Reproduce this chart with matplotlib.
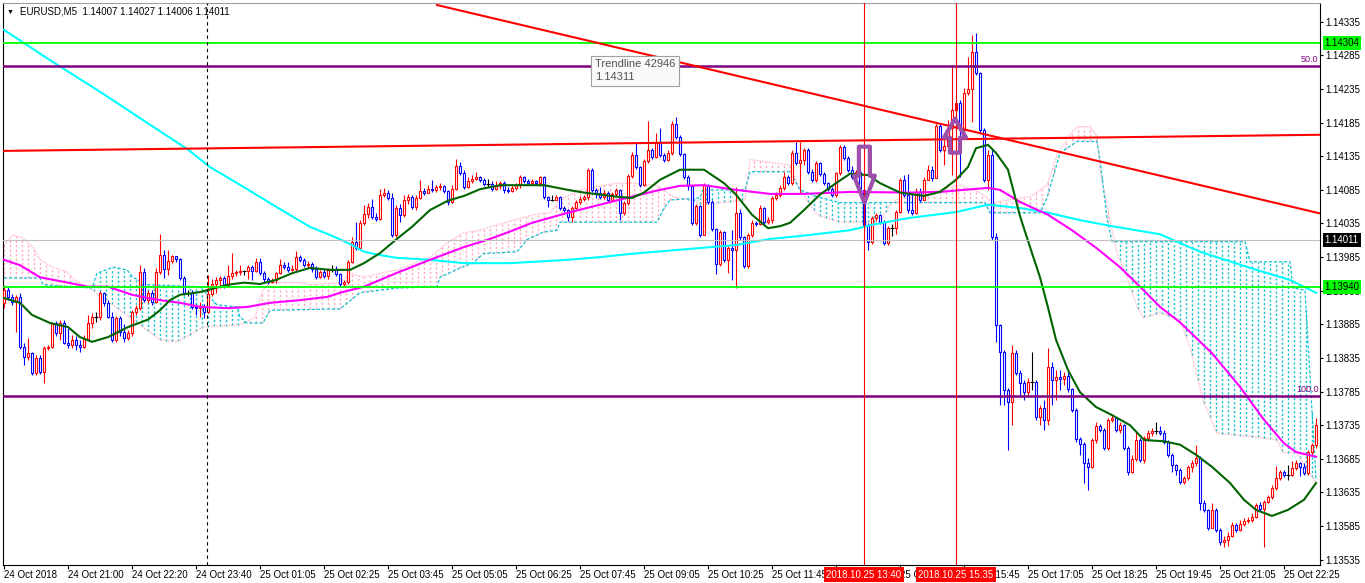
import numpy as np
import matplotlib
matplotlib.use("Agg")
import matplotlib.pyplot as plt
from matplotlib.patches import Polygon
from matplotlib.transforms import blended_transform_factory

plt.rcParams['font.family'] = ['Liberation Sans', 'DejaVu Sans']
plt.rcParams['font.size'] = 7

# EURUSD M5 bars (open of a bar = close of the previous bar)
first_open = 1.13917
close = np.array([
    1.13936, 1.13926, 1.13918, 1.13926, 1.13851, 1.13836, 1.13842, 1.13813, 1.13835, 1.13814,
    1.13850, 1.13851, 1.13887, 1.13872, 1.13887, 1.13857, 1.13854, 1.13862, 1.13854, 1.13851,
    1.13863, 1.13887, 1.13896, 1.13896, 1.13932, 1.13917, 1.13896, 1.13862, 1.13895, 1.13874,
    1.13865, 1.13872, 1.13903, 1.13909, 1.13963, 1.13921, 1.13932, 1.13918, 1.13963, 1.13988,
    1.13967, 1.13979, 1.13987, 1.13982, 1.13954, 1.13932, 1.13932, 1.13911, 1.13909, 1.13912,
    1.13903, 1.13930, 1.13945, 1.13951, 1.13954, 1.13944, 1.13957, 1.13961, 1.13963, 1.13964,
    1.13964, 1.13970, 1.13964, 1.13978, 1.13961, 1.13952, 1.13948, 1.13951, 1.13961, 1.13973,
    1.13970, 1.13966, 1.13967, 1.13985, 1.13981, 1.13973, 1.13975, 1.13967, 1.13955, 1.13963,
    1.13957, 1.13966, 1.13966, 1.13960, 1.13945, 1.13948, 1.13978, 1.14008, 1.13999, 1.14036,
    1.14049, 1.14060, 1.14045, 1.14042, 1.14078, 1.14081, 1.14073, 1.14018, 1.14058, 1.14048,
    1.14070, 1.14075, 1.14060, 1.14073, 1.14083, 1.14081, 1.14086, 1.14085, 1.14089, 1.14091,
    1.14083, 1.14067, 1.14086, 1.14121, 1.14110, 1.14089, 1.14098, 1.14101, 1.14104, 1.14100,
    1.14094, 1.14094, 1.14086, 1.14091, 1.14095, 1.14085, 1.14083, 1.14088, 1.14092, 1.14104,
    1.14098, 1.14095, 1.14098, 1.14095, 1.14104, 1.14075, 1.14070, 1.14070, 1.14075, 1.14058,
    1.14055, 1.14045, 1.14058, 1.14067, 1.14072, 1.14075, 1.14115, 1.14085, 1.14081, 1.14075,
    1.14081, 1.14070, 1.14079, 1.14085, 1.14051, 1.14066, 1.14106, 1.14137, 1.14119, 1.14092,
    1.14128, 1.14145, 1.14134, 1.14155, 1.14137, 1.14130, 1.14140, 1.14183, 1.14164, 1.14139,
    1.14104, 1.14091, 1.14036, 1.14061, 1.14018, 1.14092, 1.14067, 1.14027, 1.13975, 1.14022,
    1.13981, 1.13999, 1.13996, 1.14051, 1.14015, 1.13972, 1.14018, 1.14036, 1.14034, 1.14058,
    1.14037, 1.14040, 1.14073, 1.14078, 1.14088, 1.14104, 1.14095, 1.14140, 1.14125, 1.14130,
    1.14145, 1.14112, 1.14100, 1.14125, 1.14109, 1.14095, 1.14086, 1.14078, 1.14110, 1.14149,
    1.14133, 1.14115, 1.14104, 1.14112, 1.14085, 1.14033, 1.14008, 1.14043, 1.14048, 1.14037,
    1.14006, 1.14028, 1.14028, 1.14052, 1.14100, 1.14078, 1.14055, 1.14051, 1.14082, 1.14070,
    1.14100, 1.14115, 1.14103, 1.14180, 1.14145, 1.14150, 1.14177, 1.14204, 1.14214, 1.14174,
    1.14229, 1.14235, 1.14290, 1.14259, 1.14174, 1.14100, 1.14137, 1.14015, 1.13884, 1.13844,
    1.13787, 1.13769, 1.13842, 1.13813, 1.13798, 1.13784, 1.13799, 1.13799, 1.13747, 1.13761,
    1.13743, 1.13822, 1.13802, 1.13807, 1.13804, 1.13808, 1.13789, 1.13758, 1.13714, 1.13707,
    1.13679, 1.13673, 1.13713, 1.13734, 1.13728, 1.13701, 1.13743, 1.13746, 1.13728, 1.13735,
    1.13701, 1.13665, 1.13685, 1.13713, 1.13683, 1.13716, 1.13723, 1.13726, 1.13726, 1.13723,
    1.13710, 1.13691, 1.13676, 1.13668, 1.13650, 1.13656, 1.13673, 1.13679, 1.13686, 1.13619,
    1.13609, 1.13582, 1.13609, 1.13579, 1.13561, 1.13564, 1.13570, 1.13586, 1.13579, 1.13588,
    1.13592, 1.13594, 1.13598, 1.13616, 1.13610, 1.13621, 1.13628, 1.13642, 1.13656, 1.13665,
    1.13661, 1.13661, 1.13671, 1.13679, 1.13673, 1.13664, 1.13695, 1.13706, 1.13735])
high = np.array([
    1.13944, 1.13941, 1.13930, 1.13929, 1.13932, 1.13857, 1.13865, 1.13844, 1.13839, 1.13839,
    1.13853, 1.13854, 1.13889, 1.13890, 1.13892, 1.13892, 1.13880, 1.13869, 1.13868, 1.13862,
    1.13869, 1.13899, 1.13902, 1.13903, 1.13935, 1.13933, 1.13921, 1.13903, 1.13898, 1.13898,
    1.13886, 1.13877, 1.13906, 1.13914, 1.13973, 1.13969, 1.13936, 1.13936, 1.13969, 1.14019,
    1.13996, 1.13996, 1.13988, 1.13987, 1.13984, 1.13957, 1.13936, 1.13936, 1.13915, 1.13918,
    1.13915, 1.13958, 1.13952, 1.13955, 1.13957, 1.13957, 1.13973, 1.13991, 1.13966, 1.13973,
    1.13966, 1.13973, 1.13973, 1.13984, 1.13984, 1.13964, 1.13955, 1.13954, 1.13963, 1.13982,
    1.13978, 1.13978, 1.13973, 1.13994, 1.13988, 1.13984, 1.13979, 1.13978, 1.13972, 1.13966,
    1.13967, 1.13969, 1.13973, 1.13972, 1.13962, 1.13951, 1.13981, 1.14015, 1.14037, 1.14040,
    1.14063, 1.14066, 1.14072, 1.14051, 1.14086, 1.14088, 1.14085, 1.14081, 1.14063, 1.14064,
    1.14078, 1.14079, 1.14078, 1.14078, 1.14100, 1.14088, 1.14092, 1.14100, 1.14092, 1.14095,
    1.14092, 1.14085, 1.14092, 1.14131, 1.14127, 1.14115, 1.14104, 1.14107, 1.14112, 1.14106,
    1.14103, 1.14101, 1.14098, 1.14098, 1.14098, 1.14098, 1.14089, 1.14092, 1.14095, 1.14107,
    1.14106, 1.14101, 1.14101, 1.14100, 1.14106, 1.14106, 1.14076, 1.14078, 1.14078, 1.14076,
    1.14061, 1.14057, 1.14061, 1.14070, 1.14076, 1.14078, 1.14118, 1.14118, 1.14088, 1.14089,
    1.14085, 1.14084, 1.14082, 1.14088, 1.14087, 1.14069, 1.14109, 1.14142, 1.14155, 1.14121,
    1.14131, 1.14188, 1.14147, 1.14170, 1.14177, 1.14140, 1.14145, 1.14188, 1.14194, 1.14167,
    1.14140, 1.14107, 1.14092, 1.14064, 1.14063, 1.14095, 1.14094, 1.14070, 1.14028, 1.14025,
    1.14024, 1.14002, 1.14025, 1.14089, 1.14057, 1.14017, 1.14021, 1.14040, 1.14039, 1.14063,
    1.14060, 1.14045, 1.14076, 1.14082, 1.14092, 1.14112, 1.14107, 1.14145, 1.14156, 1.14156,
    1.14147, 1.14148, 1.14116, 1.14128, 1.14127, 1.14112, 1.14097, 1.14089, 1.14112, 1.14152,
    1.14152, 1.14136, 1.14121, 1.14115, 1.14115, 1.14088, 1.14036, 1.14046, 1.14051, 1.14049,
    1.14040, 1.14031, 1.14034, 1.14055, 1.14103, 1.14107, 1.14109, 1.14081, 1.14088, 1.14088,
    1.14104, 1.14122, 1.14121, 1.14186, 1.14183, 1.14159, 1.14189, 1.14268, 1.14219, 1.14219,
    1.14237, 1.14283, 1.14316, 1.14319, 1.14261, 1.14177, 1.14145, 1.14145, 1.14021, 1.13886,
    1.13847, 1.13790, 1.13854, 1.13847, 1.13817, 1.13802, 1.13805, 1.13844, 1.13802, 1.13765,
    1.13772, 1.13850, 1.13829, 1.13817, 1.13817, 1.13814, 1.13814, 1.13790, 1.13761, 1.13717,
    1.13710, 1.13686, 1.13716, 1.13740, 1.13737, 1.13731, 1.13746, 1.13750, 1.13747, 1.13740,
    1.13737, 1.13704, 1.13691, 1.13725, 1.13716, 1.13719, 1.13728, 1.13731, 1.13740, 1.13734,
    1.13728, 1.13713, 1.13694, 1.13677, 1.13671, 1.13659, 1.13676, 1.13683, 1.13706, 1.13689,
    1.13624, 1.13610, 1.13619, 1.13612, 1.13582, 1.13570, 1.13576, 1.13591, 1.13589, 1.13594,
    1.13597, 1.13598, 1.13604, 1.13619, 1.13621, 1.13624, 1.13631, 1.13646, 1.13674, 1.13668,
    1.13668, 1.13676, 1.13682, 1.13683, 1.13680, 1.13679, 1.13698, 1.13708, 1.13746])
low = np.array([
    1.13909, 1.13921, 1.13914, 1.13874, 1.13848, 1.13825, 1.13832, 1.13810, 1.13810, 1.13811,
    1.13798, 1.13847, 1.13850, 1.13868, 1.13862, 1.13856, 1.13850, 1.13850, 1.13847, 1.13844,
    1.13850, 1.13862, 1.13880, 1.13889, 1.13892, 1.13912, 1.13895, 1.13859, 1.13859, 1.13868,
    1.13859, 1.13862, 1.13868, 1.13899, 1.13906, 1.13918, 1.13917, 1.13914, 1.13917, 1.13960,
    1.13954, 1.13958, 1.13976, 1.13978, 1.13951, 1.13929, 1.13927, 1.13908, 1.13899, 1.13896,
    1.13895, 1.13902, 1.13927, 1.13932, 1.13939, 1.13939, 1.13941, 1.13952, 1.13957, 1.13958,
    1.13958, 1.13952, 1.13951, 1.13963, 1.13958, 1.13948, 1.13945, 1.13947, 1.13947, 1.13960,
    1.13967, 1.13963, 1.13964, 1.13964, 1.13978, 1.13970, 1.13969, 1.13963, 1.13952, 1.13954,
    1.13954, 1.13952, 1.13963, 1.13957, 1.13942, 1.13942, 1.13945, 1.13976, 1.13996, 1.13996,
    1.14033, 1.14043, 1.14042, 1.14039, 1.14040, 1.14075, 1.14070, 1.14015, 1.14015, 1.14037,
    1.14045, 1.14064, 1.14057, 1.14055, 1.14072, 1.14078, 1.14081, 1.14082, 1.14082, 1.14085,
    1.14081, 1.14063, 1.14066, 1.14085, 1.14107, 1.14086, 1.14088, 1.14095, 1.14100, 1.14097,
    1.14091, 1.14089, 1.14083, 1.14085, 1.14086, 1.14081, 1.14081, 1.14082, 1.14085, 1.14088,
    1.14095, 1.14092, 1.14094, 1.14092, 1.14091, 1.14072, 1.14060, 1.14069, 1.14070, 1.14055,
    1.14052, 1.14039, 1.14037, 1.14057, 1.14064, 1.14069, 1.14070, 1.14082, 1.14073, 1.14072,
    1.14072, 1.14067, 1.14069, 1.14076, 1.14040, 1.14048, 1.14063, 1.14103, 1.14116, 1.14089,
    1.14091, 1.14125, 1.14131, 1.14133, 1.14134, 1.14127, 1.14128, 1.14137, 1.14161, 1.14136,
    1.14101, 1.14085, 1.14033, 1.14033, 1.14015, 1.14018, 1.14064, 1.14024, 1.13960, 1.13972,
    1.13978, 1.13961, 1.13951, 1.13939, 1.14011, 1.13969, 1.13969, 1.14015, 1.14031, 1.14033,
    1.14034, 1.14034, 1.14036, 1.14070, 1.14075, 1.14085, 1.14092, 1.14092, 1.14122, 1.14081,
    1.14122, 1.14109, 1.14097, 1.14097, 1.14106, 1.14092, 1.14083, 1.14075, 1.14075, 1.14107,
    1.14130, 1.14112, 1.14101, 1.14100, 1.14082, 1.14030, 1.13996, 1.14005, 1.14039, 1.14034,
    1.14003, 1.14003, 1.14017, 1.14019, 1.14051, 1.14075, 1.14051, 1.14048, 1.14049, 1.14067,
    1.14070, 1.14100, 1.14098, 1.14103, 1.14142, 1.14122, 1.14147, 1.14107, 1.14174, 1.14104,
    1.14171, 1.14226, 1.14186, 1.14256, 1.14170, 1.14097, 1.14085, 1.14011, 1.13859, 1.13765,
    1.13765, 1.13698, 1.13735, 1.13810, 1.13780, 1.13772, 1.13780, 1.13787, 1.13743, 1.13735,
    1.13728, 1.13735, 1.13765, 1.13772, 1.13787, 1.13795, 1.13784, 1.13755, 1.13710, 1.13691,
    1.13649, 1.13639, 1.13671, 1.13708, 1.13725, 1.13698, 1.13698, 1.13740, 1.13725, 1.13723,
    1.13698, 1.13661, 1.13664, 1.13682, 1.13680, 1.13679, 1.13711, 1.13719, 1.13722, 1.13720,
    1.13707, 1.13688, 1.13665, 1.13661, 1.13647, 1.13647, 1.13653, 1.13665, 1.13674, 1.13609,
    1.13606, 1.13579, 1.13582, 1.13576, 1.13557, 1.13554, 1.13555, 1.13569, 1.13576, 1.13578,
    1.13585, 1.13589, 1.13591, 1.13597, 1.13607, 1.13554, 1.13619, 1.13625, 1.13639, 1.13653,
    1.13658, 1.13653, 1.13659, 1.13668, 1.13659, 1.13661, 1.13661, 1.13691, 1.13701])

# moving averages (bar index, price)
ma_fast_x = [0, 4, 7, 11.5, 16, 19, 22, 26, 31, 36, 39, 41.5, 44, 49, 56, 60, 64, 68, 72, 76.5,
             81.5, 86.5, 90, 94, 98, 102, 106.5, 111, 115, 119, 124, 135, 141, 145, 153, 157, 160, 164, 169, 175,
             177, 180, 183, 187, 191, 194, 196.5, 200, 204, 208, 211.5, 216, 219, 224, 230, 234, 238, 241, 243, 246,
             248, 251, 254, 256.5, 259, 261, 263, 266, 269, 273, 277, 281.5, 285, 290, 294, 298, 302, 306.5, 310, 313,
             317, 321, 325, 328]
ma_fast = [1.13924, 1.13917, 1.13899, 1.13887, 1.13881, 1.13866, 1.13859, 1.13866, 1.13881, 1.13892,
           1.13906, 1.13921, 1.13929, 1.13933, 1.13944, 1.13947, 1.13945, 1.13951, 1.13961, 1.13969,
           1.13966, 1.13966, 1.13976, 1.13991, 1.14011, 1.14030, 1.14055, 1.14069, 1.14076, 1.14086,
           1.14092, 1.14092, 1.14085, 1.14081, 1.14075, 1.14073, 1.14081, 1.14100, 1.14115, 1.14115,
           1.14107, 1.14095, 1.14078, 1.14048, 1.14028, 1.14031, 1.14036, 1.14055, 1.14078, 1.14095,
           1.14109, 1.14107, 1.14095, 1.14081, 1.14076, 1.14082, 1.14100, 1.14119, 1.14147, 1.14152,
           1.14140, 1.14115, 1.14046, 1.14000, 1.13955, 1.13910, 1.13862, 1.13817, 1.13784, 1.13762,
           1.13750, 1.13735, 1.13713, 1.13711, 1.13706, 1.13691, 1.13673, 1.13649, 1.13624, 1.13609,
           1.13600, 1.13609, 1.13624, 1.13649]
ma_mid_x = [0, 4, 9, 16, 21, 26, 32, 36, 39, 44, 49, 56, 61, 66.5, 74, 81, 84, 90, 98, 106.5,
            115, 121, 126.5, 132, 141, 149, 157, 164, 169, 175, 183, 191.5, 200, 211.5, 226, 234, 246, 249, 254, 261,
            267, 273, 279, 284, 289, 294, 302, 309, 315, 320, 323, 328]
ma_mid = [1.13981, 1.13973, 1.13955, 1.13947, 1.13941, 1.13941, 1.13929, 1.13924, 1.13921, 1.13917,
          1.13911, 1.13909, 1.13911, 1.13917, 1.13921, 1.13926, 1.13932, 1.13941, 1.13961, 1.13981,
          1.14000, 1.14011, 1.14023, 1.14036, 1.14051, 1.14063, 1.14075, 1.14085, 1.14091, 1.14092,
          1.14085, 1.14079, 1.14079, 1.14082, 1.14081, 1.14082, 1.14088, 1.14085, 1.14067, 1.14048,
          1.14025, 1.13999, 1.13970, 1.13941, 1.13911, 1.13888, 1.13842, 1.13792, 1.13743, 1.13708,
          1.13695, 1.13688]
ma_slow_x = [0, 11.5, 24, 36.5, 46, 51.5, 60, 68, 76.5, 81.5, 86, 90, 94, 98, 106.5, 115, 126.5, 141, 149, 157,
             169, 183, 191.5, 200, 211.5, 217, 226, 238, 246, 254, 261, 269, 277, 289, 299, 311.5, 321.5, 328]
ma_slow = [1.14323, 1.14278, 1.14231, 1.14182, 1.14145, 1.14119, 1.14089, 1.14060, 1.14030, 1.14018,
           1.14006, 1.13993, 1.13988, 1.13984, 1.13981, 1.13976, 1.13976, 1.13981, 1.13985, 1.13990,
           1.13996, 1.14003, 1.14012, 1.14017, 1.14025, 1.14033, 1.14043, 1.14052, 1.14063, 1.14058,
           1.14051, 1.14040, 1.14031, 1.14019, 1.13993, 1.13969, 1.13951, 1.13932]

# Ichimoku cloud spans
span_a_x = [0, 2.25, 4.5, 7.25, 9, 12.25, 15.75, 17.75, 22, 32.25, 39, 43.25, 47.25, 49.75, 59, 62.75, 64.75, 66.5, 74, 76.5,
            84, 86.5, 89.75, 94, 98.25, 106.5, 110.75, 114.75, 119, 123.25, 132.25, 136.5, 139, 144, 147.25, 153.25, 157.25,
            163.25, 167.25, 171.5, 174.75, 185.25, 186.5, 196.5, 199, 203.25, 209, 219, 221.5, 224, 234, 239, 244, 247.25,
            256.5, 260.75, 263.5, 266.5, 268.25, 271.5, 273.25, 274, 276.5, 278.25, 280.75, 283.25, 284.75, 289, 294,
            296.5, 299.75, 303.25, 313.25, 318.25, 319.75, 323.25, 328]
span_a = [1.14003, 1.14018, 1.14014, 1.14000, 1.13981, 1.13970, 1.13963, 1.13951, 1.13936, 1.13892,
          1.13862, 1.13859, 1.13872, 1.13881, 1.13884, 1.13895, 1.13936, 1.13947, 1.13947, 1.13944,
          1.13947, 1.13961, 1.13955, 1.13961, 1.13966, 1.13985, 1.14006, 1.14021, 1.14025, 1.14033,
          1.14048, 1.14051, 1.14070, 1.14085, 1.14089, 1.14095, 1.14095, 1.14092, 1.14075, 1.14070,
          1.14063, 1.14070, 1.14130, 1.14122, 1.14085, 1.14048, 1.14037, 1.14037, 1.14063, 1.14073,
          1.14085, 1.14092, 1.14081, 1.14066, 1.14075, 1.14092, 1.14140, 1.14167, 1.14179, 1.14179,
          1.14164, 1.14115, 1.14040, 1.13991, 1.13955, 1.13911, 1.13895, 1.13902, 1.13892, 1.13851,
          1.13772, 1.13723, 1.13717, 1.13713, 1.13694, 1.13694, 1.13649]
span_b_x = [0, 9, 9.75, 22, 23.25, 27.25, 30.75, 32.25, 35.75, 49, 53.25, 58.25, 59, 60.75, 64.75, 66.5, 84, 89, 98.25,
            108.25, 109, 114, 117.25, 119.75, 128.25, 130.75, 134.75, 138.25, 139, 163.25, 164.75, 166.5, 174, 174.75,
            185.25, 186.5, 196.5, 199, 203.25, 209, 245.25, 246.5, 259, 260.75, 264, 268.25, 273.25, 274, 275.75, 277,
            310.25, 311.5, 321.5, 322.25, 325.25, 328]
span_b = [1.13954, 1.13954, 1.13944, 1.13939, 1.13961, 1.13970, 1.13966, 1.13955, 1.13944, 1.13941,
          1.13914, 1.13911, 1.13896, 1.13887, 1.13887, 1.13906, 1.13908, 1.13932, 1.13939, 1.13941,
          1.13955, 1.13969, 1.13976, 1.13990, 1.13993, 1.14011, 1.14022, 1.14025, 1.14037, 1.14037,
          1.14055, 1.14070, 1.14073, 1.14085, 1.14085, 1.14112, 1.14112, 1.14085, 1.14075, 1.14066,
          1.14066, 1.14051, 1.14051, 1.14073, 1.14140, 1.14157, 1.14157, 1.14130, 1.14043, 1.14008,
          1.14008, 1.13978, 1.13978, 1.13939, 1.13936, 1.13653]

# axis labels
time_tick_idx = [0, 16, 32, 48, 64, 80, 96, 112, 128, 144, 160, 176, 192, 208, 224, 240, 256, 272, 288, 304, 320]
time_tick_lbl = ['24 Oct 2018', '24 Oct 21:00', '24 Oct 22:20', '24 Oct 23:40', '25 Oct 01:05', '25 Oct 02:25',
                 '25 Oct 03:45', '25 Oct 05:05', '25 Oct 06:25', '25 Oct 07:45', '25 Oct 09:05', '25 Oct 10:25',
                 '25 Oct 11:45', '25 Oct 13:05', '25 Oct 14:25', '25 Oct 15:45', '25 Oct 17:05', '25 Oct 18:25',
                 '25 Oct 19:45', '25 Oct 21:05', '25 Oct 22:25']
price_ticks = [1.13535, 1.13585, 1.13635, 1.13685, 1.13735, 1.13785, 1.13835, 1.13885, 1.13935,
               1.13985, 1.14035, 1.14085, 1.14135, 1.14185, 1.14235, 1.14285, 1.14335]

# objects on the chart
green_levels = [1.14304, 1.13940]
fib_levels = [1.14270, 1.13778]
fib_labels = ['50.0', '100.0']
bid_price = 1.14011
trend_down_x, trend_down_y = [108.25, 329], [1.14360, 1.14050]
trend_flat_x, trend_flat_y = [-0.25, 329], [1.14143, 1.14167]
marker_idx = [215, 238]
marker_lbl = ['2018.10.25 13:40', '2018.10.25 15:35']
day_sep_idx = 50.75
arrow_down = (215.1, 1.14066)
arrow_up = (237.75, 1.14191)

W, H = 1365, 583
fig = plt.figure(figsize=(W / 100, H / 100), dpi=100)
ax = fig.add_axes([3 / W, 18 / H, 1317 / W, 562 / H])
XL, YL = (-0.25, 329), (1.13527, 1.14363)
ax.set_xlim(*XL)
ax.set_ylim(*YL)
PX_X = (XL[1] - XL[0]) / 1317
PX_Y = (YL[1] - YL[0]) / 562

# cloud: dotted vertical hatching between the spans
grid = np.arange(0, 328.5, 1.5)
a = np.interp(grid, span_a_x, span_a)
b = np.interp(grid, span_b_x, span_b)
bull = a >= b
ax.vlines(grid[bull], b[bull], a[bull], colors='#FFAABF', linewidth=1.0,
          linestyles=(0, (1.6, 1.6)), zorder=1)
ax.vlines(grid[~bull], a[~bull], b[~bull], colors='#12C2D0', linewidth=1.0,
          linestyles=(0, (1.6, 1.6)), zorder=1)
ax.plot(span_a_x, span_a, color='#FFAABF', lw=0.9, ls=(0, (1, 1)), zorder=1)
ax.plot(span_b_x, span_b, color='#12C2D0', lw=0.9, ls=(0, (2.5, 1.5)), zorder=1)

# candles
n = len(close)
idx = np.arange(n)
opn = np.r_[first_open, close[:-1]]
col = np.where(close > opn, '#FF0000', np.where(close < opn, '#0000FF', '#000000'))
flat = close == opn
ax.vlines(idx, low, high, colors=col, linewidth=0.8, zorder=3)
ax.bar(idx[~flat], np.abs(close - opn)[~flat], bottom=np.minimum(close, opn)[~flat], width=0.5,
       facecolor='white', edgecolor=col[~flat], linewidth=0.8, zorder=4)
ax.hlines(close[flat], idx[flat] - 0.4, idx[flat] + 0.4, colors='black', linewidth=0.8, zorder=4)

# moving averages
ax.plot(ma_slow_x, ma_slow, color='#00FFFF', lw=1.5, zorder=5)
ax.plot(ma_mid_x, ma_mid, color='#FF00FF', lw=1.5, zorder=5)
ax.plot(ma_fast_x, ma_fast, color='#006400', lw=1.5, zorder=5)

# levels and lines
for p in green_levels:
    ax.axhline(p, color='#00FF00', lw=1.3, zorder=6)
for p, t in zip(fib_levels, fib_labels):
    ax.axhline(p, color='#800080', lw=1.8, zorder=6)
    ax.text(328.6, p + 2 * PX_Y, t, ha='right', va='bottom', color='#800080', fontsize=6.5, zorder=9)
ax.axhline(bid_price, color='#C0C0C0', lw=0.8, zorder=6)
ax.plot(trend_down_x, trend_down_y, color='#FF0000', lw=1.5, zorder=6)
ax.plot(trend_flat_x, trend_flat_y, color='#FF0000', lw=1.5, zorder=6)
for xi in marker_idx:
    ax.axvline(xi, color='#FF0000', lw=0.8, zorder=6)
ax.axvline(day_sep_idx, color='black', lw=0.8, ls=(0, (3, 3)), zorder=6)


def hollow_arrow(x, tip, length, head_len, head_half, shaft_half, down):
    s = 1 if down else -1
    pts = [(-shaft_half, length), (shaft_half, length), (shaft_half, head_len), (head_half, head_len),
           (0, 0), (-head_half, head_len), (-shaft_half, head_len)]
    verts = [(x + dx * PX_X, tip + s * dy * PX_Y) for dx, dy in pts]
    ax.add_patch(Polygon(verts, closed=True, fill=False, edgecolor='#9C50AA', linewidth=3,
                         joinstyle='round', zorder=8))


hollow_arrow(*arrow_down, length=56, head_len=27, head_half=10.5, shaft_half=5.5, down=True)
hollow_arrow(*arrow_up, length=34, head_len=19, head_half=11, shaft_half=5, down=False)

# tooltip
ax.text(147.75, 1.14279, 'Trendline 42946\n1.14311', ha='left', va='top', fontsize=8, color='#505050',
        linespacing=1.35, zorder=10,
        bbox=dict(boxstyle='square,pad=0.35', fc='#FAFAFA', ec='#A0A0A0', lw=0.8))

# axes look
for s in ['left', 'right', 'bottom']:
    ax.spines[s].set_color('black')
    ax.spines[s].set_linewidth(0.8)
ax.spines['top'].set_color('#A0A0A0')
ax.yaxis.tick_right()
ax.set_yticks(price_ticks)
ax.set_yticklabels([f'{p:.5f}' for p in price_ticks])
ax.tick_params(axis='y', direction='out', length=2.5, width=0.8, pad=1.5, labelsize=7)
ax.set_xticks(time_tick_idx)
ax.set_xticklabels(time_tick_lbl, ha='left')
ax.tick_params(axis='x', direction='out', length=3, width=0.8, pad=0.5, labelsize=7)

# price labels on the right scale
tr = blended_transform_factory(ax.transAxes, ax.transData)
for p, fc, tc in [(green_levels[0], '#00FF00', 'black'), (green_levels[1], '#00FF00', 'black'),
                  (bid_price, 'black', 'white')]:
    ax.text(1.0034, p, f'{p:.5f}', transform=tr, ha='left', va='center', color=tc, fontsize=7,
            bbox=dict(boxstyle='square,pad=0.2', fc=fc, ec='none'), clip_on=False, zorder=20)

# time labels of the vertical lines
trx = blended_transform_factory(ax.transData, ax.transAxes)
for xi, t in zip(marker_idx, marker_lbl):
    ax.text(xi, -9.5 / 562, t, transform=trx, ha='center', va='center', color='white', fontsize=7,
            bbox=dict(boxstyle='square,pad=0.25', fc='#FF0000', ec='none'), clip_on=False, zorder=20)

# chart caption
fig.text(7 / W, 1 - 12 / H, '▼', fontsize=5, va='center', ha='left')
fig.text(20 / W, 1 - 12 / H, 'EURUSD,M5  1.14007 1.14027 1.14006 1.14011', fontsize=7, va='center', ha='left')

fig.savefig('out.png', dpi=100, facecolor='white')
